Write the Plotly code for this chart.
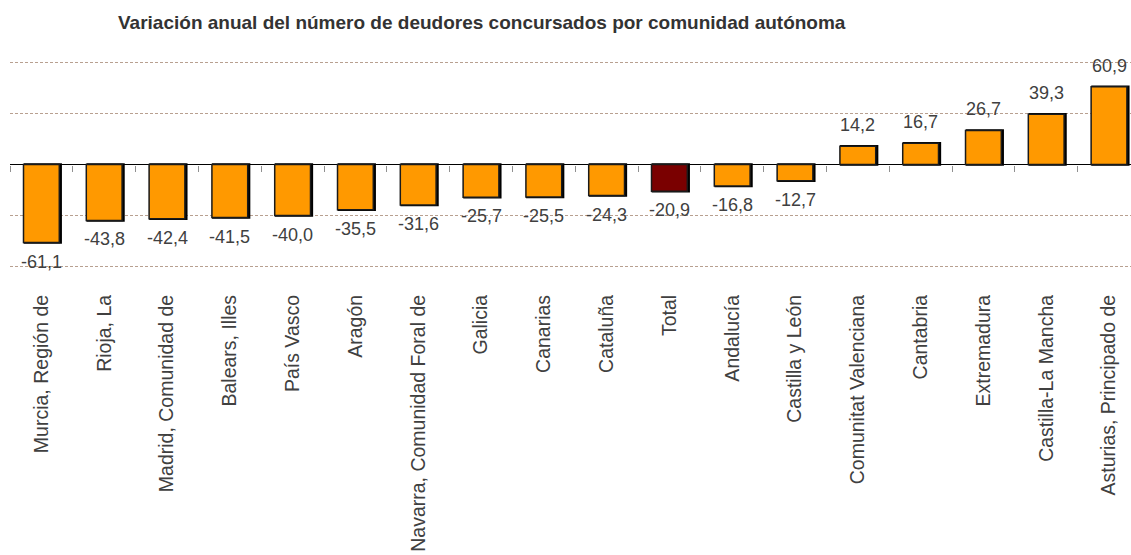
import plotly.graph_objects as go

categories = ["Murcia, Región de", "Rioja, La", "Madrid, Comunidad de", "Balears, Illes",
              "País Vasco", "Aragón", "Navarra, Comunidad Foral de", "Galicia", "Canarias",
              "Cataluña", "Total", "Andalucía", "Castilla y León", "Comunitat Valenciana",
              "Cantabria", "Extremadura", "Castilla-La Mancha", "Asturias, Principado de"]
values = [-61.1, -43.8, -42.4, -41.5, -40.0, -35.5, -31.6, -25.7, -25.5,
          -24.3, -20.9, -16.8, -12.7, 14.2, 16.7, 26.7, 39.3, 60.9]
highlight = "Total"

ORANGE = "#FF9900"
DARKRED = "#7A0000"
colors = [DARKRED if c == highlight else ORANGE for c in categories]
labels = [f"{v:.1f}".replace(".", ",") for v in values]

BAR_W = 0.57
SHIFT = 0.022  # small shadow offset (category units)

fig = go.Figure()
# shadow
fig.add_trace(go.Bar(
    x=categories, y=values, marker=dict(color="black", line=dict(color="black", width=2.5)),
    width=BAR_W, offset=-BAR_W / 2 + SHIFT, hoverinfo="skip", showlegend=False,
))
fig.add_trace(go.Bar(
    x=categories, y=values, marker=dict(color=colors, line=dict(color="#1a1a1a", width=1.5)),
    width=BAR_W, offset=-BAR_W / 2, hoverinfo="x+y", showlegend=False,
))
# invisible trace for tick axis at zero
fig.add_trace(go.Scatter(x=categories, y=[0] * len(categories), xaxis="x2", mode="markers",
                         marker=dict(opacity=0), hoverinfo="skip", showlegend=False))

for c, v, t in zip(categories, values, labels):
    fig.add_annotation(x=c, y=v, text=t, showarrow=False, yshift=21 if v > 0 else -19,
                       font=dict(family="Liberation Sans, Arial", size=18, color="#404040"))

rng = [-0.5, 17.35]
fig.update_layout(
    width=1131, height=555,
    barmode="overlay",
    margin=dict(l=10, r=0, t=61, b=287, autoexpand=False),
    plot_bgcolor="white", paper_bgcolor="white",
    title=dict(text="<b>Variación anual del número de deudores concursados por comunidad autónoma</b>",
               x=118 / 1131, xanchor="left", y=1 - 22 / 555, yanchor="middle", automargin=False,
               font=dict(family="Liberation Sans, Arial", size=19, color="#333333")),
    xaxis=dict(type="category", range=rng, showgrid=False, showline=False, ticks="",
               tickangle=-90, ticklabelstandoff=22, automargin=False,
               categoryorder="array", categoryarray=categories,
               tickfont=dict(family="Liberation Sans, Arial", size=19.5, color="#404040")),
    xaxis2=dict(type="category", range=rng, overlaying="x", anchor="free", position=0.5,
                showgrid=False, showline=False, showticklabels=False, ticks="outside",
                tickson="boundaries", ticklen=6, tickcolor="#909090", tickwidth=1,
                categoryorder="array", categoryarray=categories),
    yaxis=dict(range=[-81, 81], tickvals=[-80, -40, 40, 80], showticklabels=False, showgrid=True,
               gridcolor="#B8A090", griddash="3px,2px", gridwidth=1, automargin=False,
               zeroline=True, zerolinecolor="black", zerolinewidth=1.3, showline=False),
    font=dict(family="Liberation Sans, Arial"),
)

fig.write_html("out.html", config={"displayModeBar": False},
               post_script="document.body.style.margin='0';")
